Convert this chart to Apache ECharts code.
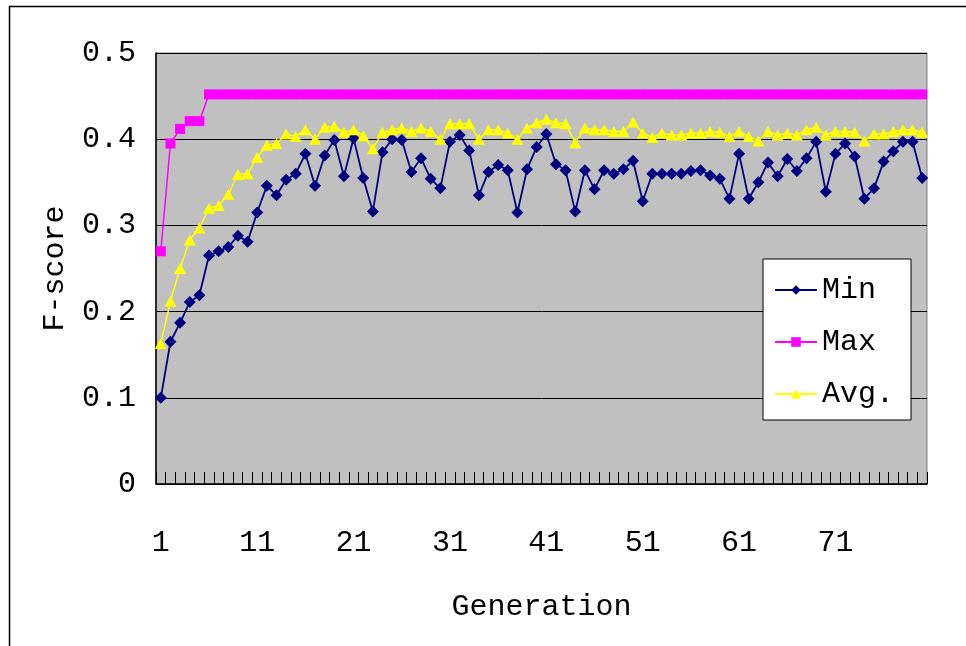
<!DOCTYPE html>
<html>
<head>
<meta charset="utf-8">
<style>
  html, body { margin: 0; padding: 0; background: #fff; }
  #chart { width: 966px; height: 646px; }
</style>
<script src="https://cdn.jsdelivr.net/npm/echarts@6/dist/echarts.min.js"></script>
</head>
<body>
<div id="chart"></div>
<script>
// Generation numbers on the x axis
const generations = [
  '1','2','3','4','5','6','7','8','9','10',
  '11','12','13','14','15','16','17','18','19','20',
  '21','22','23','24','25','26','27','28','29','30',
  '31','32','33','34','35','36','37','38','39','40',
  '41','42','43','44','45','46','47','48','49','50',
  '51','52','53','54','55','56','57','58','59','60',
  '61','62','63','64','65','66','67','68','69','70',
  '71','72','73','74','75','76','77','78','79','80'
];

// Lowest F-score in each generation
const minScore = [
  0.100, 0.165, 0.187, 0.211, 0.219, 0.265, 0.270, 0.275, 0.288, 0.281,
  0.315, 0.346, 0.335, 0.353, 0.360, 0.383, 0.346, 0.381, 0.399, 0.357,
  0.401, 0.355, 0.316, 0.385, 0.400, 0.399, 0.362, 0.378, 0.354, 0.343,
  0.397, 0.405, 0.387, 0.335, 0.362, 0.370, 0.364, 0.315, 0.365, 0.391,
  0.406, 0.371, 0.364, 0.316, 0.364, 0.342, 0.364, 0.360, 0.365, 0.375,
  0.328, 0.360, 0.360, 0.360, 0.360, 0.363, 0.364, 0.358, 0.354, 0.331,
  0.383, 0.331, 0.350, 0.373, 0.357, 0.377, 0.363, 0.378, 0.397, 0.339,
  0.383, 0.395, 0.380, 0.331, 0.343, 0.374, 0.386, 0.397, 0.397, 0.355
];

// Highest F-score in each generation
const maxScore = [
  0.270, 0.395, 0.412, 0.421, 0.421, 0.452, 0.452, 0.452, 0.452, 0.452,
  0.452, 0.452, 0.452, 0.452, 0.452, 0.452, 0.452, 0.452, 0.452, 0.452,
  0.452, 0.452, 0.452, 0.452, 0.452, 0.452, 0.452, 0.452, 0.452, 0.452,
  0.452, 0.452, 0.452, 0.452, 0.452, 0.452, 0.452, 0.452, 0.452, 0.452,
  0.452, 0.452, 0.452, 0.452, 0.452, 0.452, 0.452, 0.452, 0.452, 0.452,
  0.452, 0.452, 0.452, 0.452, 0.452, 0.452, 0.452, 0.452, 0.452, 0.452,
  0.452, 0.452, 0.452, 0.452, 0.452, 0.452, 0.452, 0.452, 0.452, 0.452,
  0.452, 0.452, 0.452, 0.452, 0.452, 0.452, 0.452, 0.452, 0.452, 0.452
];

// Average F-score in each generation
const avgScore = [
  0.163, 0.212, 0.250, 0.283, 0.297, 0.320, 0.323, 0.336, 0.359, 0.360,
  0.379, 0.393, 0.395, 0.406, 0.403, 0.411, 0.400, 0.414, 0.415, 0.408,
  0.411, 0.404, 0.389, 0.408, 0.411, 0.413, 0.409, 0.413, 0.409, 0.400,
  0.418, 0.418, 0.418, 0.400, 0.411, 0.411, 0.407, 0.400, 0.413, 0.419,
  0.423, 0.419, 0.418, 0.396, 0.413, 0.411, 0.411, 0.409, 0.409, 0.420,
  0.407, 0.402, 0.407, 0.405, 0.405, 0.407, 0.407, 0.409, 0.408, 0.403,
  0.409, 0.403, 0.398, 0.409, 0.405, 0.407, 0.405, 0.411, 0.414, 0.405,
  0.409, 0.409, 0.408, 0.398, 0.406, 0.406, 0.409, 0.411, 0.411, 0.408
];

const FONT = "'Liberation Mono', 'DejaVu Sans Mono', monospace";

const chart = echarts.init(document.getElementById('chart'), null, { renderer: 'canvas' });

chart.setOption({
  backgroundColor: '#ffffff',
  animation: false,
  graphic: [{
    type: 'rect',
    left: 7, top: 4,
    shape: { width: 1000, height: 700 },
    style: { fill: 'none', stroke: '#000', lineWidth: 1.5 },
    silent: true,
    z: 100
  }],
  grid: {
    left: 156, top: 53, right: 39, bottom: 162,
    show: true,
    backgroundColor: '#C0C0C0',
    borderColor: '#808080',
    borderWidth: 1
  },
  legend: {
    orient: 'vertical',
    left: 763, top: 259,
    padding: [16, 17, 11, 11],
    backgroundColor: '#ffffff',
    borderColor: '#000',
    borderWidth: 1,
    itemWidth: 42,
    itemHeight: 12,
    itemGap: 22,
    textStyle: { fontFamily: FONT, fontSize: 30, color: '#000', lineHeight: 30 },
    data: ['Min', 'Max', 'Avg.']
  },
  xAxis: {
    type: 'category',
    data: generations,
    boundaryGap: true,
    name: 'Generation',
    nameLocation: 'middle',
    nameGap: 108,
    nameTextStyle: { fontFamily: FONT, fontSize: 30, color: '#000' },
    axisLine: { lineStyle: { color: '#000', width: 1.5 } },
    axisTick: { show: true, inside: true, length: 12, interval: 0, lineStyle: { color: '#000', width: 1 } },
    axisLabel: { interval: 9, margin: 44, fontFamily: FONT, fontSize: 30, color: '#000' },
    splitLine: { show: false }
  },
  yAxis: {
    type: 'value',
    min: 0, max: 0.5, interval: 0.1,
    name: 'F-score',
    nameLocation: 'middle',
    nameGap: 86,
    nameRotate: 90,
    nameTextStyle: { fontFamily: FONT, fontSize: 30, color: '#000' },
    axisLine: { show: true, lineStyle: { color: '#000', width: 1.5 } },
    axisTick: { show: true, inside: true, length: 11, lineStyle: { color: '#000' } },
    axisLabel: {
      margin: 20, fontFamily: FONT, fontSize: 30, color: '#000',
      formatter: v => (v === 0 ? '0' : v.toFixed(1))
    },
    splitLine: { show: true, lineStyle: { color: '#000', width: 1 } }
  },
  series: [
    {
      name: 'Min', type: 'line', data: minScore,
      showAllSymbol: true,
      symbol: 'diamond', symbolSize: 12,
      lineStyle: { color: '#000080', width: 1.8 },
      itemStyle: { color: '#000080' },
      z: 2
    },
    {
      name: 'Max', type: 'line', data: maxScore,
      showAllSymbol: true,
      symbol: 'rect', symbolSize: 10,
      lineStyle: { color: '#FF00FF', width: 1.5 },
      itemStyle: { color: '#FF00FF' },
      z: 3
    },
    {
      name: 'Avg.', type: 'line', data: avgScore,
      showAllSymbol: true,
      symbol: 'triangle', symbolSize: [12, 11],
      lineStyle: { color: '#FFFF00', width: 1.5 },
      itemStyle: { color: '#FFFF00' },
      z: 4
    }
  ]
});
</script>
</body>
</html>
